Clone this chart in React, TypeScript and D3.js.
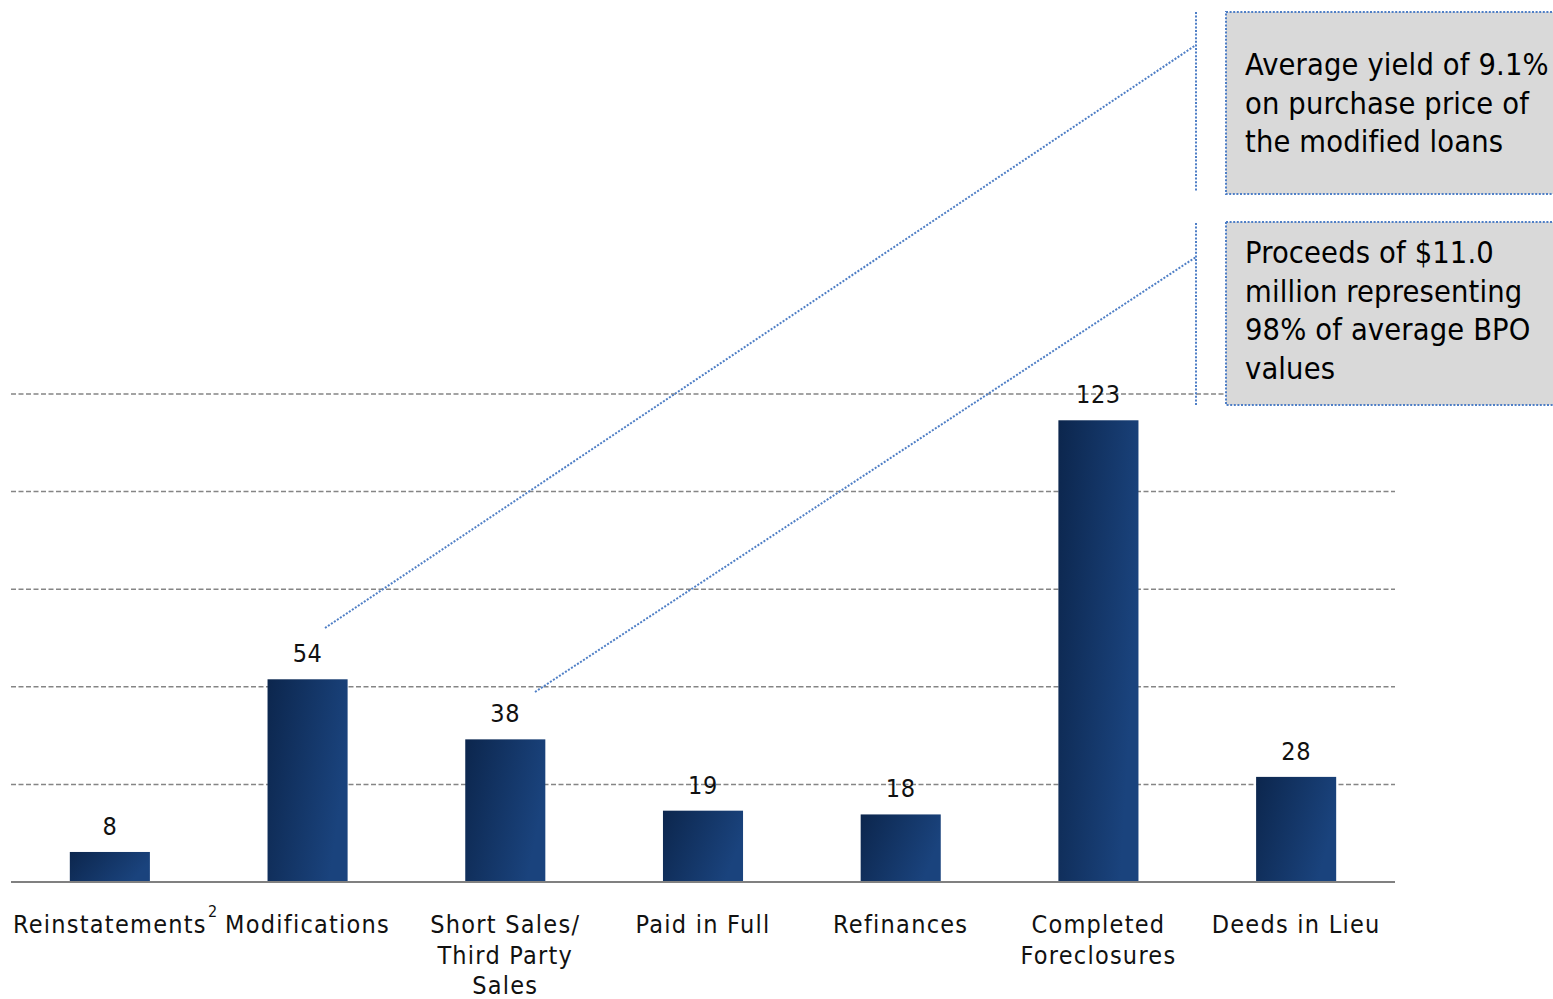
import React from "react";
import * as d3 from "d3";

const categories = [
  ["Reinstatements"],
  ["Modifications"],
  ["Short Sales/", "Third Party", "Sales"],
  ["Paid in Full"],
  ["Refinances"],
  ["Completed", "Foreclosures"],
  ["Deeds in Lieu"],
];
const values = [8, 54, 38, 19, 18, 123, 28];
const gridTicks = [26, 52, 78, 104, 130];
const callout1 = ["Average yield of 9.1%", "on purchase price of", "the modified loans"];
const callout2 = ["Proceeds of $11.0", "million representing", "98% of average BPO", "values"];

const W = 1553;
const H = 999;
const FONT = "'DejaVu Sans Condensed', 'DejaVu Sans', sans-serif";

export default function App() {
  const x = d3
    .scaleBand<number>()
    .domain(d3.range(values.length))
    .range([11, 1395])
    .paddingInner(0.595)
    .paddingOuter(0.2975);
  const y = d3.scaleLinear().domain([0, 130]).range([882, 394]);
  const bw = x.bandwidth();
  const cx = (i: number) => (x(i) as number) + bw / 2;

  const blue = "#4f7fc6";
  const lineX = 1196;
  const dotted = { stroke: blue, strokeWidth: 2, strokeDasharray: "2 1.6" };

  return (
    <svg
      width={W}
      height={H}
      style={{ position: "absolute", left: 0, top: 0, fontStretch: "condensed" }}
      fontFamily={FONT}
    >
      <defs>
        <linearGradient id="barGrad" x1="0" y1="0" x2="1" y2="0.35">
          <stop offset="0%" stopColor="#0c264d" />
          <stop offset="100%" stopColor="#1a437d" />
        </linearGradient>
      </defs>
      <rect width={W} height={H} fill="#fff" />

      {gridTicks.map((t) => (
        <line
          key={t}
          x1={11}
          x2={1395}
          y1={y(t)}
          y2={y(t)}
          stroke="#858585"
          strokeWidth={1.5}
          strokeDasharray="5 2.5"
        />
      ))}
      <line x1={1395} x2={1226} y1={y(130)} y2={y(130)} stroke="#858585" strokeWidth={1.5} strokeDasharray="5 2.5" />

      {values.map((v, i) => (
        <rect
          key={i}
          x={x(i)}
          y={y(v)}
          width={bw}
          height={y(0) - y(v)}
          fill="url(#barGrad)"
        />
      ))}
      <line x1={11} x2={1395} y1={y(0)} y2={y(0)} stroke="#808080" strokeWidth={2} />

      {values.map((v, i) => (
        <text
          key={i}
          x={cx(i)}
          y={y(v) - 17}
          textAnchor="middle"
          fontSize={25}
          letterSpacing={0.6}
          fill="#111"
        >
          {v}
        </text>
      ))}

      {categories.map((lines, i) => (
        <text key={i} x={cx(i)} textAnchor="middle" fontSize={25} letterSpacing={1.25} fill="#111">
          {lines.map((l, j) => (
            <tspan key={j} x={cx(i)} y={933 + j * 30.5}>
              {l}
            </tspan>
          ))}
        </text>
      ))}
      <text x={208} y={917} fontSize={16} fill="#111">
        2
      </text>

      {/* leader lines */}
      <line x1={325} y1={628} x2={lineX} y2={45} {...dotted} />
      <line x1={535} y1={692} x2={lineX} y2={257} {...dotted} />
      <line x1={lineX} x2={lineX} y1={12} y2={192} {...dotted} />
      <line x1={lineX} x2={lineX} y1={223} y2={405} {...dotted} />

      {/* callout boxes */}
      <rect x={1226} y={12} width={340} height={182} fill="#d9d9d9" {...dotted} />
      <rect x={1226} y={222} width={340} height={183} fill="#d9d9d9" {...dotted} />
      <text fontSize={30.5} letterSpacing={0.15} fill="#000">
        {callout1.map((l, j) => (
          <tspan key={j} x={1245} y={75 + j * 38.5}>
            {l}
          </tspan>
        ))}
      </text>
      <text fontSize={30.5} letterSpacing={0.15} fill="#000">
        {callout2.map((l, j) => (
          <tspan key={j} x={1245} y={263 + j * 38.5}>
            {l}
          </tspan>
        ))}
      </text>
    </svg>
  );
}
